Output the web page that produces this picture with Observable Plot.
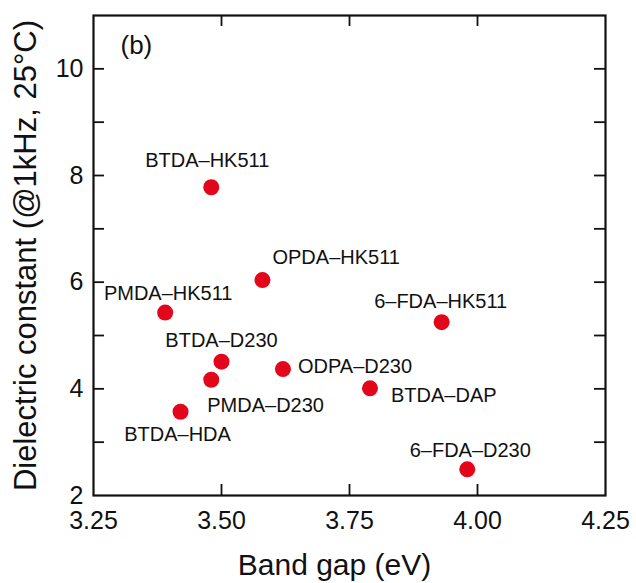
<!DOCTYPE html>
<html>
<head>
<meta charset="utf-8">
<script src="https://cdn.jsdelivr.net/npm/d3@7"></script>
<script src="https://cdn.jsdelivr.net/npm/@observablehq/plot@0.6"></script>
<style>
  html, body { margin: 0; padding: 0; background: #fff; }
  #chart svg { display: block; }
</style>
</head>
<body>
<div id="chart"></div>
<script>
// ---- data ----
const names = ["BTDA–HK511", "OPDA–HK511", "PMDA–HK511", "BTDA–D230", "PMDA–D230",
               "BTDA–HDA", "ODPA–D230", "6–FDA–HK511", "BTDA–DAP", "6–FDA–D230"];
const bandGap = [3.48, 3.58, 3.39, 3.50, 3.48, 3.42, 3.62, 3.93, 3.79, 3.98];
const dielectric = [7.78, 6.04, 5.43, 4.51, 4.17, 3.57, 4.37, 5.25, 4.01, 2.49];
const xTickLabels = [3.25, 3.50, 3.75, 4.00, 4.25];
const xTickMarks = [3.50, 3.75, 4.00];
const yTickLabels = [2, 4, 6, 8, 10];
const yTickMarks = [3, 4, 5, 6, 7, 8, 9, 10];

// label placement (layout only)
const placement = {
  "BTDA–HK511": {dx: -4, dy: -27, anchor: "middle"},
  "OPDA–HK511": {dx: 10, dy: -22, anchor: "start"},
  "PMDA–HK511": {dx: 3, dy: -19, anchor: "middle"},
  "BTDA–D230": {dx: 0, dy: -21, anchor: "middle"},
  "PMDA–D230": {dx: -4, dy: 26, anchor: "start"},
  "BTDA–HDA": {dx: -3, dy: 23, anchor: "middle"},
  "ODPA–D230": {dx: 15, dy: -3, anchor: "start"},
  "6–FDA–HK511": {dx: -1, dy: -21, anchor: "middle"},
  "BTDA–DAP": {dx: 21, dy: 7, anchor: "start"},
  "6–FDA–D230": {dx: 3, dy: -19, anchor: "middle"}
};

const data = names.map((n, i) => ({name: n, x: bandGap[i], y: dielectric[i]}));

const W = 636, H = 583;
const mL = 93, mR = 31, mT = 15, mB = 88;
const pw = W - mL - mR, ph = H - mT - mB;
const tick = 11;
const font = "'Liberation Sans', Arial, Helvetica, sans-serif";

const labelMarks = data.map(d => {
  const p = placement[d.name];
  return Plot.text([d], {x: "x", y: "y", text: "name", dx: p.dx, dy: p.dy,
    textAnchor: p.anchor, lineAnchor: "middle", fontSize: 20, fill: "#111"});
});

const chart = Plot.plot({
  width: W, height: H,
  marginLeft: mL, marginRight: mR, marginTop: mT, marginBottom: mB,
  style: {fontFamily: font, background: "#fff", color: "#111"},
  x: {domain: [3.25, 4.25]},
  y: {domain: [2, 11]},
  marks: [
    // inward ticks
    Plot.tickY(yTickMarks, {y: d => d, insetRight: pw - tick, stroke: "#111", strokeWidth: 1.8}),
    Plot.tickY(yTickMarks, {y: d => d, insetLeft: pw - tick, stroke: "#111", strokeWidth: 1.8}),
    Plot.tickX(xTickMarks, {x: d => d, insetTop: ph - tick, stroke: "#111", strokeWidth: 1.8}),
    Plot.tickX(xTickMarks, {x: d => d, insetBottom: ph - tick, stroke: "#111", strokeWidth: 1.8}),
    Plot.axisY({ticks: yTickLabels, tickSize: 0, tickPadding: 10, fontSize: 25, label: null, tickFormat: d => String(d)}),
    Plot.axisX({ticks: xTickLabels, tickSize: 0, tickPadding: 16, fontSize: 25, label: null, tickFormat: d3.format(".2f")}),
    Plot.frame({stroke: "#111", strokeWidth: 2.2}),
    Plot.dot(data, {x: "x", y: "y", r: 8, fill: "#e3061a", stroke: "none"}),
    ...labelMarks,
    Plot.text(["(b)"], {frameAnchor: "top-left", dx: 27, dy: 30, textAnchor: "start", lineAnchor: "middle", fontSize: 26, fill: "#111"}),
    Plot.text(["Band gap (eV)"], {frameAnchor: "bottom", dx: -15, dy: 70, textAnchor: "middle", lineAnchor: "middle", fontSize: 30, fill: "#111"}),
    Plot.text(["Dielectric constant (@1kHz, 25°C)"], {frameAnchor: "left", dx: -67, rotate: -90, textAnchor: "middle", lineAnchor: "middle", fontSize: 31, fill: "#111"})
  ]
});
document.getElementById("chart").appendChild(chart);
</script>
</body>
</html>
